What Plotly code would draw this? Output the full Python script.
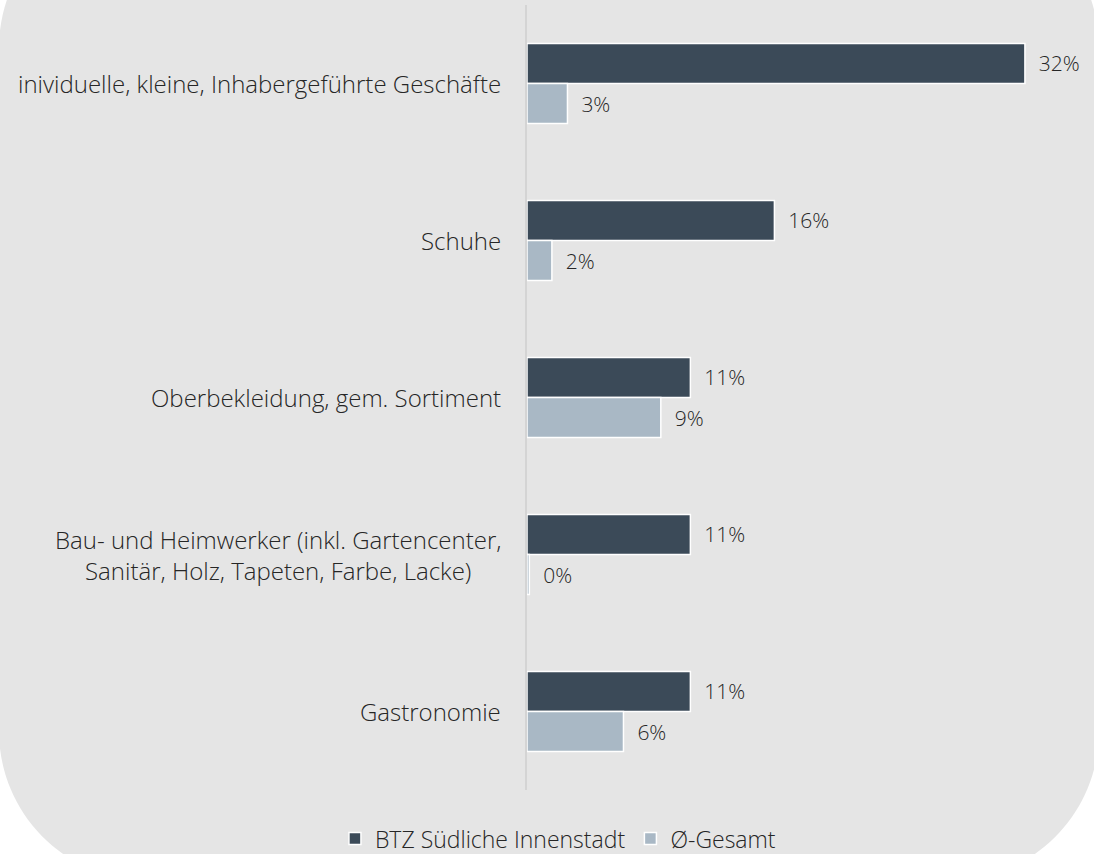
import plotly.graph_objects as go

# categories (top to bottom)
categories = [
    "inividuelle, kleine, Inhabergeführte Geschäfte",
    "Schuhe",
    "Oberbekleidung, gem. Sortiment",
    "Bau- und Heimwerker (inkl. Gartencenter,<br>Sanitär, Holz, Tapeten, Farbe, Lacke)",
    "Gastronomie",
]
series_names = ["BTZ Südliche Innenstadt", "Ø-Gesamt"]
btz_values = [32.0, 15.9, 10.5, 10.5, 10.5]
gesamt_values = [2.6, 1.6, 8.6, 0.15, 6.2]

DARK = "#3b4a58"
LIGHT = "#a9b8c5"
BG = "#e5e5e5"
TXT = "#262626"
FONT = "Open Sans"

W, H = 1094, 854
ML, MR, MT, MB = 527, 0, 5, 64
pw, ph = W - ML - MR, H - MT - MB


def px(x):
    return (x - ML) / pw


def py(y):
    return (H - MB - y) / ph


def rounded_rect(x0, y0, x1, y1, r):
    k = 0.5523 * r
    pts = [
        ("M", [(x0 + r, y0)]),
        ("L", [(x1 - r, y0)]),
        ("C", [(x1 - r + k, y0), (x1, y0 + r - k), (x1, y0 + r)]),
        ("L", [(x1, y1 - r)]),
        ("C", [(x1, y1 - r + k), (x1 - r + k, y1), (x1 - r, y1)]),
        ("L", [(x0 + r, y1)]),
        ("C", [(x0 + r - k, y1), (x0, y1 - r + k), (x0, y1 - r)]),
        ("L", [(x0, y0 + r)]),
        ("C", [(x0, y0 + r - k), (x0 + r - k, y0), (x0 + r, y0)]),
    ]
    path = ""
    for cmd, ps in pts:
        path += cmd + " ".join("%.5f,%.5f" % (px(a), py(b)) for a, b in ps) + " "
    return path + "Z"


fig = go.Figure()
for name, vals, col in [(series_names[0], btz_values, DARK), (series_names[1], gesamt_values, LIGHT)]:
    fig.add_trace(go.Bar(
        y=categories, x=vals, name=name, orientation="h",
        marker=dict(color=col, line=dict(color="white", width=1.5)),
        texttemplate="\u00a0\u00a0%{x:.0f}%", textposition="outside",
        textfont=dict(family=FONT, size=21, color=TXT, weight=300),
        cliponaxis=False, hoverinfo="skip",
    ))

for c in categories:
    fig.add_annotation(
        x=0, xref="paper", y=c, yref="y", xanchor="right", xshift=-24,
        text=c, showarrow=False, align="center",
        font=dict(family=FONT, size=24, color=TXT, weight=300),
    )

fig.add_shape(type="path", xref="paper", yref="paper", layer="below",
              path=rounded_rect(-1, -102, 1099, 881, 150),
              fillcolor=BG, line=dict(width=0))

fig.update_layout(
    width=W, height=H,
    margin=dict(l=ML, r=MR, t=MT, b=MB),
    paper_bgcolor="white", plot_bgcolor="rgba(0,0,0,0)",
    barmode="group", bargap=0.49, bargroupgap=0,
    font=dict(family=FONT, size=21, color=TXT, weight=300),
    xaxis=dict(range=[0, pw / 15.56], showgrid=False, zeroline=False,
               showticklabels=False, showline=False),
    yaxis=dict(autorange=False, range=[4.5, -0.5], showgrid=False,
               showticklabels=False, showline=True, linecolor="#d4d4d4",
               linewidth=2, ticks=""),
    legend=dict(orientation="h", xref="container", yref="container",
                x=0.51, xanchor="center", y=0.018, yanchor="middle",
                bgcolor="rgba(0,0,0,0)", itemwidth=30,
                font=dict(family=FONT, size=23, color=TXT, weight=300)),
    showlegend=True,
)

fig.write_html("out.html", config={"displayModeBar": False},
               post_script="document.body.style.margin='0';document.body.style.overflow='hidden';")
